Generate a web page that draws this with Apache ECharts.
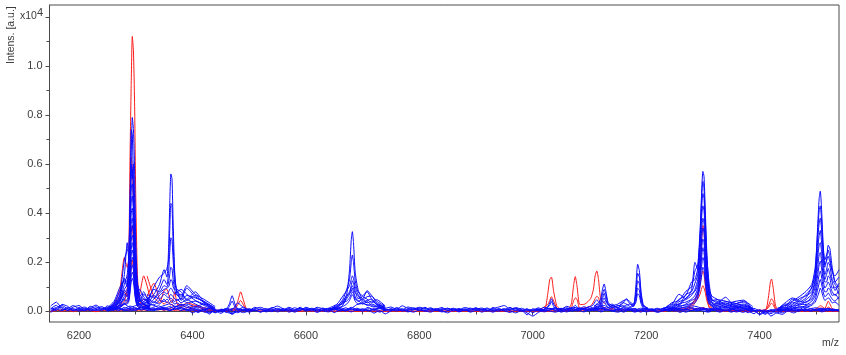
<!DOCTYPE html>
<html>
<head>
<meta charset="utf-8">
<style>
  html, body { margin: 0; padding: 0; background: #fff; }
  #chart { width: 846px; height: 355px; }
</style>
<script src="https://cdn.jsdelivr.net/npm/echarts@6/dist/echarts.min.js"></script>
</head>
<body>
<div id="chart"></div>
<script>
// tick positions, intensities in a.u. (axis label shows them x10^4)
var xMajorTicks = [6200, 6400, 6600, 6800, 7000, 7200, 7400]
var xMinorTicks = [6300, 6500, 6700, 6900, 7100, 7300, 7500]
var yLabelTicks = [0, 2000, 4000, 6000, 8000, 10000]
var yMajorTicks = [0, 2000, 4000, 6000, 8000, 10000, 12000]
var yMinorTicks = [1000, 3000, 5000, 7000, 9000, 11000]

// baseline noise, one value every 10 m/z from 6150 to 7540
var mzBase = []
for (var m = 6150; m <= 7540; m += 10) mzBase.push(m)

var blueBase1 = [
  220, 380, 120, 60, 180, 240, 90, 150, 260, 120,
  170, 90, 210, 300, 160, 240, 300, 220, 280, 160,
  240, 310, 200, 280, 240, 130, 180, 90, 150, 60,
  40, 120, 80, 350, 150, 60, 120, 170, 90, 130,
  220, 110, 40, 150, 90, 130, 60, 170, 110, 80,
  60, 150, 90, 120, 280, 320, 260, 180, 240, 130,
  180, 90, 230, 120, 70, 140, 90, 150, 60, 110,
  80, 130, 70, 160, 110, 90, 140, 60, 120, 180,
  240, 90, 160, 70, -140, 110, 60, 170, 90, 130,
  80, 210, 110, 70, 190, 120, 80, 210, 130, 240,
  150, 80, 120, 60, 130, 90, 30, 110, 60, 120,
  80, 140, 170, 230, 190, 120, 90, 100, 120, 150,
  110, 180, 130, 60, 20, 60, -80, 40, 100, 60,
  60, 140, 90, 180, 120, 150, 90, 120, 80, 60
]
var blueBase2 = [
  80, 160, 240, 110, 40, 110, 180, 60, 120, 200,
  70, 150, 60, 110, 220, 130, 90, 150, 110, 130,
  60, 140, 210, 100, 60, 150, 60, 20, 110, -60,
  60, -40, 120, 70, 180, 40, 170, 60, 110, 30,
  130, 60, 170, 80, 30, 170, 90, 50, 140, 30,
  120, 40, 150, 60, 130, 60, 170, 40, 110, 70,
  40, 160, 60, 180, 120, 40, 170, 60, 120, 40,
  130, 50, 120, 30, 80, 150, 30, 110, 50, 90,
  60, 170, 40, 130, 50, 30, 150, 40, 120, 50,
  130, 60, 170, 130, 90, 200, 60, 130, 40, 170,
  60, 130, 40, 110, -30, 70, 110, 40, 130, 30,
  110, 50, 120, 170, 80, 150, 60, 170, 60, 110,
  60, 150, 40, 90, 120, 20, -120, 50, -60, 20,
  110, 40, 90, 30, 110, 60, 130, 40, 100, 30
]
var blueBase3 = [
  -40, 90, 30, 160, 90, 20, 70, 110, 30, 90,
  120, 40, 110, 30, 80, 150, 60, 120, 70, 90,
  130, 40, 100, 160, 90, 40, 110, -20, -60, 40,
  -80, 50, -120, 40, 70, 110, 30, 90, -20, 60,
  40, 120, -30, 60, 110, 20, 70, -40, 60, 110,
  -50, 60, 20, 110, 40, 90, 20, 110, -30, 60,
  90, 20, 70, -20, 60, 110, 30, -30, 70, 20,
  -60, 60, 20, 70, -30, 50, 100, 30, 70, 10,
  80, 30, -60, 40, -60, -190, -40, 60, 20, -30,
  40, -20, 60, 20, 100, 30, 70, -20, 60, 30,
  90, -30, 60, 20, 70, -20, 40, -40, 30, 70,
  20, 60, -30, 50, 20, 70, 30, 40, -30, 60,
  20, -20, 50, -50, 30, -100, 40, -190, -60, -120,
  20, -60, 40, 70, 10, 60, -20, 50, 20, 60
]
var blueBase4 = [
  140, 40, 290, 210, 20, 160, 40, 210, 90, 40,
  230, 120, 30, 170, 80, 40, 170, 90, 160, 230,
  120, 200, 90, 150, 30, 80, -40, 70, -110, 80,
  -20, 90, 30, -50, 60, -30, 50, -20, 40, 100,
  -20, 70, 110, 20, 130, 70, 110, 20, 80, 130,
  70, 110, 30, 90, 40, 110, 30, 80, 130, 30,
  110, 60, 30, 90, 150, 60, 20, 120, 30, 80,
  130, 20, 90, 60, 140, 30, 70, 140, 20, 120,
  30, 100, 120, 80, 20, 60, 20, 90, 130, 40,
  100, 150, 30, 120, 60, 20, 130, 90, 190, 70,
  30, 170, 90, 20, 60, 120, 70, 130, 20, 90,
  130, 60, 90, 40, 130, 70, 130, 40, 110, 30,
  90, 60, 120, 30, -90, 60, -10, 70, 20, 90,
  30, 90, 20, 120, 40, 70, 30, 90, 30, 70
]
var blueBase5 = [
  30, 120, 180, 30, 110, 60, 130, 30, 70, 140,
  30, 60, 150, 70, 20, 90, 170, 40, 60, 110,
  170, 60, 130, 40, 100, -60, 40, 60, -30, 30,
  70, -30, -90, 20, -50, 30, 80, -30, 60, -10,
  80, 20, 70, -30, 60, 90, 20, 110, 30, -20,
  90, 20, 70, -20, 90, 20, 60, -70, 40, -100,
  20, 60, 110, 30, -30, 70, 20, 90, 60, -20,
  30, 90, -20, 60, 20, 110, -30, 40, -30, 70,
  20, -40, 60, 20, 110, -60, 80, -20, 60, 100,
  -30, 50, 20, 60, -20, 70, 110, 40, 90, 20,
  -30, 50, 70, -30, 60, 20, 90, -20, 60, 20,
  60, -40, 60, 30, 70, 20, -30, 90, 20, 60,
  -30, 60, -40, 30, 70, -140, -30, -90, 40, -60,
  60, 10, 70, 20, 60, 30, 70, 30, 50, 10
]
var blueBase6 = [
  110, 250, 60, 120, 240, 100, 30, 100, 190, 60,
  100, 190, 130, 60, 130, 60, 230, 110, 30, 70,
  100, 30, 170, 230, 170, 90, -30, 100, 30, -40,
  20, 60, -60, 110, 20, 80, 20, 110, 30, 160,
  90, 30, 110, 40, 170, 40, 130, 90, 30, 60,
  160, 90, 40, 170, 60, 20, 110, 90, 160, 100,
  60, 130, 20, 60, 100, 170, 120, 40, 90, 160,
  30, 110, 40, 110, 50, 130, 80, 20, 160, 50,
  120, 60, 110, 20, 90, 60, 110, 30, 60, 170,
  20, 100, 130, 30, 120, 70, 30, 130, 70, 20,
  110, 30, 90, 120, 30, 110, 20, 70, 110, 60,
  30, 110, 60, 130, 40, 100, 20, 120, 80, 20,
  130, 40, 80, 110, 40, 30, 60, -30, 70, 30,
  90, 50, 20, 70, 30, 90, 60, 110, 70, 40
]
var redBase1 = [
  20, 60, 10, 50, -10, 40, 20, 60, 10, 40,
  30, 80, 20, 60, 110, 30, 70, 40, 90, 60,
  90, 50, 70, 30, 60, 20, 50, 10, 40, 20,
  50, 10, 40, 30, 60, 20, 40, 10, 30, 60,
  20, 40, 10, 30, 10, 30, 20, 10, 30, 10,
  20, 10, 30, 10, 20, 10, 30, 20, 10, 20,
  10, 30, 10, 20, 0, 20, 10, 30, 10, 20,
  10, 20, 0, 20, 10, 30, 10, 20, 10, 30,
  20, 10, 20, 10, 0, 20, 10, 30, 10, 20,
  30, 10, 50, 20, 40, 90, 30, 60, 110, 50,
  90, 30, 60, 20, 50, 20, 10, 30, 10, 40,
  20, 30, 90, 60, 110, 130, 50, 70, 20, 30,
  50, 20, 30, 10, 20, 10, 0, 20, 10, 30,
  10, 20, 0, 30, 10, 20, 0, 30, 10, 20
]
var redBase2 = [
  -10, 30, 70, 20, 60, 30, 70, 30, -10, 50,
  60, 20, 100, 50, 30, 120, 40, 140, 70, 110,
  40, 120, 30, 160, 70, 110, 20, 80, 60, 30,
  70, 30, 100, 60, 20, 90, 50, 20, 60, 10,
  40, 20, 50, 20, 10, 30, 10, 40, 10, 20,
  0, 30, 10, 20, 10, 0, 20, 10, 30, 0,
  20, 10, 0, 30, 10, 20, 0, 10, 30, 10,
  20, 0, 30, 10, 20, 10, 0, 20, 30, 10,
  0, 20, 10, 30, 0, 20, 10, 0, 20, 40,
  60, 30, 70, 40, 110, 60, 130, 70, 60, 120,
  30, 80, 40, 70, 10, 40, 30, 60, 20, 50,
  30, 60, 50, 120, 90, 160, 70, 40, 30, 10,
  30, 10, 20, 0, 30, 60, 20, 30, 10, 20,
  0, 20, 30, 10, 30, 60, 20, 10, 0, 20
]

// peak near 6294
var mzA = [6250, 6262, 6272, 6280, 6285, 6288, 6290, 6292, 6294, 6296, 6298, 6300, 6303, 6307, 6314, 6325]
var blueA = [
  [90, 240, 560, 1500, 2800, 2100, 3100, 6200, 7900, 7400, 5800, 3000, 1200, 700, 500, 300],
  [120, 300, 700, 2100, 2500, 2600, 4200, 7400, 7200, 5200, 3300, 1900, 1000, 400, 700, 400],
  [60, 180, 480, 1100, 1500, 2400, 4600, 6000, 5400, 6000, 4600, 2400, 800, 500, 300, 500],
  [100, 360, 820, 1300, 1100, 2000, 3800, 5400, 5800, 5000, 3100, 1700, 900, 600, 800, 200],
  [40, 150, 380, 900, 1100, 1900, 3600, 5000, 5200, 4300, 2600, 1300, 600, 300, 400, 600],
  [150, 420, 980, 1250, 1000, 1700, 3100, 4400, 4700, 4100, 2700, 1300, 700, 900, 600, 300],
  [70, 200, 640, 1350, 1200, 1400, 2700, 4000, 4200, 3500, 2200, 1200, 1100, 500, 300, 200],
  [110, 270, 450, 780, 900, 1300, 2500, 3600, 3800, 3300, 2300, 1500, 500, 400, 500, 400],
  [30, 120, 300, 620, 800, 1200, 2100, 3200, 3500, 3100, 2000, 1100, 600, 200, 300, 150],
  [80, 350, 520, 860, 750, 1000, 1900, 2900, 3100, 2800, 1900, 1000, 800, 600, 400, 300],
  [50, 160, 260, 540, 650, 900, 1700, 2500, 2800, 2500, 1700, 800, 400, 300, 200, 250],
  [130, 210, 420, 700, 600, 800, 1500, 2300, 2500, 2200, 1500, 900, 300, 500, 300, 100],
  [20, 90, 180, 380, 500, 700, 1300, 2000, 2200, 2000, 1300, 700, 300, 200, 100, 200],
  [70, 250, 340, 480, 420, 600, 1100, 1700, 1900, 1700, 1100, 600, 500, 250, 350, 120],
  [40, 130, 230, 320, 350, 500, 900, 1400, 1600, 1450, 950, 500, 250, 120, 200, 90],
  [90, 110, 150, 290, 300, 420, 780, 1200, 1350, 1200, 800, 420, 200, 300, 150, 170]
]
var redA = [
  [60, 140, 270, 420, 900, 2600, 6300, 9200, 11200, 10600, 8500, 4800, 1500, 400, 250, 100],
  [100, 300, 900, 2200, 1800, 2100, 3800, 6300, 5900, 4300, 2300, 1000, 500, 700, 1450, 600],
  [40, 120, 500, 800, 600, 1100, 2200, 3300, 3500, 2700, 1500, 700, 400, 300, 500, 300],
  [50, 90, 180, 300, 400, 600, 1200, 1800, 2100, 1700, 1000, 500, 250, 150, 200, 120]
]

// peak near 6362 and the low humps on both sides of it
var mzB = [6320, 6332, 6342, 6350, 6355, 6358, 6360, 6362, 6364, 6366, 6369, 6373, 6380, 6390, 6405, 6420, 6440]
var blueB = [
  [500, 700, 1100, 1700, 1400, 2600, 4400, 5600, 5400, 3600, 1500, 800, 900, 700, 450, 300, 120],
  [300, 1000, 1400, 1550, 1750, 2100, 3300, 4400, 4300, 2700, 1400, 700, 500, 950, 600, 380, 80],
  [700, 550, 900, 1300, 1100, 1600, 2400, 3000, 2900, 2100, 1100, 900, 800, 500, 800, 400, 150],
  [400, 900, 800, 1050, 1000, 1200, 1500, 1800, 1750, 1300, 900, 850, 600, 1050, 700, 500, 200],
  [250, 500, 750, 900, 950, 1000, 1150, 1300, 1250, 1000, 850, 650, 700, 450, 650, 350, 60],
  [600, 350, 650, 800, 700, 800, 900, 950, 900, 800, 700, 800, 450, 650, 550, 420, 130],
  [200, 650, 500, 700, 600, 550, 650, 700, 650, 600, 500, 450, 550, 350, 420, 250, 40],
  [350, 250, 450, 400, 500, 450, 500, 550, 500, 450, 400, 500, 350, 480, 300, 150, 90],
  [150, 400, 300, 500, 350, 400, 350, 400, 450, 350, 300, 350, 250, 300, 200, 300, 20]
]
var redB = [
  [1450, 600, 350, 850, 900, 700, 500, 400, 350, 500, 800, 300, 200, 350, 250, 150, 60],
  [600, 1150, 500, 300, 400, 350, 300, 250, 300, 200, 150, 250, 300, 150, 220, 100, 40]
]

// small blue peak 6470, red peaks 6485
var mzG = [6450, 6460, 6465, 6470, 6475, 6480, 6485, 6490, 6495, 6505]
var blueG = [
  [60, 120, 300, 640, 300, 100, 70, 90, 40, 80],
  [100, 60, 200, 420, 180, 80, 110, 40, 80, 50]
]
var redG = [
  [30, 60, 50, 90, 150, 420, 800, 460, 120, 40],
  [50, 30, 60, 40, 100, 270, 450, 260, 80, 20]
]

// peak near 6682 with the hump at 6710
var mzC = [6640, 6655, 6665, 6672, 6677, 6680, 6682, 6684, 6687, 6692, 6700, 6708, 6716, 6725, 6740]
var blueC = [
  [100, 180, 350, 700, 1700, 2900, 3250, 2800, 1600, 900, 500, 850, 650, 420, 200],
  [60, 220, 480, 900, 1300, 2000, 2300, 2000, 1250, 800, 650, 800, 500, 300, 120],
  [130, 300, 620, 850, 1050, 1300, 1450, 1350, 1000, 700, 450, 600, 620, 350, 170],
  [80, 120, 420, 650, 800, 1050, 1250, 1150, 850, 520, 600, 500, 350, 480, 220],
  [40, 260, 300, 520, 700, 950, 1050, 950, 750, 650, 380, 450, 500, 260, 90],
  [110, 90, 250, 600, 750, 800, 950, 800, 600, 400, 500, 350, 420, 300, 150],
  [70, 180, 360, 420, 550, 700, 800, 720, 500, 450, 300, 400, 250, 180, 70],
  [30, 140, 200, 300, 450, 600, 680, 600, 420, 300, 360, 250, 300, 220, 110]
]

// red peaks around 7030 to 7115 and the blue bump 7033
var mzR = [7005, 7015, 7022, 7027, 7030, 7033, 7037, 7043, 7052, 7062, 7068, 7072, 7075, 7078, 7083, 7092, 7102, 7107, 7110, 7113, 7116, 7120, 7128]
var redR = [
  [40, 60, 120, 800, 1300, 1400, 800, 200, 60, 90, 300, 1050, 1420, 1050, 280, 300, 520, 900, 1450, 1650, 1300, 500, 300],
  [20, 100, 220, 300, 450, 600, 420, 120, 40, 60, 150, 420, 550, 500, 130, 150, 220, 380, 520, 620, 560, 250, 120]
]
var blueR = [
  [60, 50, 90, 220, 350, 520, 300, 120, 100, 70, 120, 180, 250, 190, 90, 120, 200, 280, 400, 480, 380, 260, 240],
  [100, 20, 130, 180, 250, 400, 200, 90, 40, 130, 60, 120, 160, 120, 150, 60, 120, 160, 200, 320, 260, 180, 120]
]

// blue peaks 7125, 7165, 7186
var mzF = [7108, 7116, 7120, 7123, 7126, 7129, 7133, 7140, 7150, 7158, 7165, 7172, 7178, 7182, 7185, 7188, 7191, 7195, 7203]
var blueF = [
  [200, 340, 520, 900, 1120, 820, 360, 240, 300, 420, 480, 300, 250, 1100, 1920, 1650, 820, 280, 100],
  [120, 260, 400, 700, 900, 680, 300, 170, 220, 300, 520, 380, 280, 800, 1550, 1400, 700, 220, 150],
  [240, 180, 350, 520, 740, 500, 240, 300, 120, 380, 300, 200, 320, 620, 1250, 1120, 520, 180, 60],
  [90, 200, 260, 420, 550, 400, 310, 130, 250, 180, 260, 300, 200, 480, 950, 860, 400, 240, 120],
  [160, 130, 180, 300, 420, 280, 150, 220, 150, 240, 180, 160, 240, 380, 720, 640, 320, 130, 90]
]

// peak near 7300 with the shoulder on its left and low humps round it
var mzD = [7230, 7245, 7258, 7270, 7280, 7286, 7291, 7295, 7298, 7300, 7302, 7304, 7307, 7311, 7316, 7325, 7340, 7355, 7372, 7388]
var blueD = [
  [100, 260, 700, 520, 880, 2000, 1700, 3000, 5000, 5700, 5500, 4300, 2400, 900, 450, 480, 420, 300, 420, 200],
  [60, 350, 450, 820, 1000, 1650, 1900, 3300, 4700, 5300, 5000, 3900, 2200, 1150, 500, 350, 580, 250, 300, 130],
  [150, 180, 500, 650, 1200, 1300, 1750, 3000, 4300, 4800, 4600, 3500, 2000, 900, 620, 500, 300, 400, 460, 90],
  [90, 300, 280, 700, 800, 1150, 1500, 2700, 3900, 4300, 4100, 3200, 1700, 800, 380, 300, 400, 350, 220, 150],
  [40, 130, 400, 480, 650, 900, 1300, 2400, 3400, 3800, 3600, 2800, 1500, 700, 450, 420, 250, 300, 380, 60],
  [120, 220, 240, 550, 720, 820, 1100, 2000, 3000, 3400, 3200, 2400, 1300, 600, 320, 250, 350, 180, 260, 110],
  [70, 100, 320, 380, 500, 650, 950, 1700, 2600, 2950, 2800, 2100, 1150, 500, 250, 320, 200, 260, 150, 70],
  [30, 160, 180, 300, 450, 520, 800, 1500, 2250, 2600, 2400, 1800, 950, 450, 350, 180, 280, 140, 220, 100],
  [80, 70, 220, 260, 340, 450, 700, 1250, 1900, 2200, 2050, 1500, 800, 380, 200, 240, 150, 200, 120, 40],
  [50, 120, 130, 200, 300, 350, 550, 1000, 1500, 1800, 1700, 1250, 650, 300, 260, 140, 200, 100, 170, 80]
]
var redD = [
  [40, 60, 90, 120, 180, 350, 600, 1500, 2900, 3500, 3300, 2300, 1100, 400, 120, 80, 60, 40, 50, 30],
  [20, 50, 70, 100, 260, 500, 700, 1100, 1500, 1650, 1500, 1100, 600, 200, 90, 60, 40, 50, 30, 20],
  [30, 40, 60, 80, 320, 420, 520, 700, 950, 1050, 950, 800, 450, 180, 60, 40, 30, 20, 30, 10]
]

// red peak 7420
var mzH = [7400, 7408, 7412, 7416, 7419, 7421, 7424, 7428, 7433, 7442]
var redH = [
  [30, 60, 120, 650, 1200, 1320, 950, 250, 70, 30],
  [20, 40, 100, 260, 430, 520, 420, 150, 40, 20],
  [40, 20, 80, 170, 280, 340, 260, 90, 60, 10]
]

// peaks near 7507 and 7520 with the rising humps at the right edge
var mzE = [7432, 7445, 7458, 7470, 7482, 7492, 7498, 7502, 7505, 7507, 7509, 7512, 7515, 7518, 7521, 7524, 7528, 7533, 7540]
var blueE = [
  [100, 350, 550, 450, 700, 950, 1500, 3300, 4600, 4900, 4300, 2800, 1900, 2100, 2700, 2550, 1800, 1200, 1000],
  [60, 250, 420, 600, 820, 1100, 1800, 3100, 4100, 4300, 3800, 2600, 2100, 2300, 2500, 2200, 1600, 1450, 1700],
  [140, 180, 500, 380, 560, 1000, 1600, 2800, 3600, 3800, 3400, 2400, 1800, 2050, 2250, 2000, 1700, 1200, 1400],
  [40, 300, 300, 520, 640, 800, 1300, 2400, 3100, 3300, 2900, 2100, 1500, 1700, 2000, 1850, 1300, 1100, 900],
  [90, 120, 380, 300, 480, 700, 1200, 2100, 2700, 2800, 2500, 1800, 1300, 1500, 1750, 1500, 1200, 850, 1150],
  [120, 240, 200, 420, 350, 620, 1000, 1700, 2300, 2400, 2100, 1500, 1200, 1200, 1450, 1350, 950, 1000, 700],
  [30, 90, 260, 250, 400, 500, 800, 1400, 1900, 2050, 1800, 1300, 950, 1050, 1200, 1050, 800, 650, 850],
  [70, 160, 130, 300, 280, 420, 650, 1100, 1500, 1650, 1450, 1000, 800, 800, 950, 900, 650, 700, 500],
  [50, 60, 180, 150, 240, 300, 500, 850, 1150, 1300, 1150, 800, 600, 650, 750, 650, 500, 420, 600],
  [20, 110, 90, 200, 180, 250, 380, 600, 800, 950, 850, 600, 450, 500, 550, 500, 350, 380, 250]
]
var redE = [
  [20, 40, 30, 50, 40, 60, 90, 150, 200, 240, 220, 170, 120, 260, 420, 300, 120, 60, 40],
  [10, 20, 40, 20, 30, 40, 60, 100, 120, 150, 130, 100, 70, 120, 180, 140, 70, 30, 20]
]

var redGroups = [
  [mzBase, [redBase1, redBase2]], [mzA, redA], [mzB, redB], [mzG, redG],
  [mzR, redR], [mzD, redD], [mzH, redH], [mzE, redE]
]
var blueGroups = [
  [mzBase, [blueBase1, blueBase2, blueBase3, blueBase4, blueBase5, blueBase6]],
  [mzA, blueA], [mzB, blueB], [mzG, blueG], [mzC, blueC],
  [mzR, blueR], [mzF, blueF], [mzD, blueD], [mzE, blueE]
]

function buildSeries (groups, color, width, z) {
  var list = []
  groups.forEach(function (group) {
    group[1].forEach(function (values) {
      list.push({
        type: 'line',
        data: values.map(function (v, i) { return [group[0][i], v] }),
        symbol: 'none',
        smooth: 0.2,
        silent: true,
        z: z,
        lineStyle: { color: color, width: width }
      })
    })
  })
  return list
}

var textColor = '#3c3c3c'
var axisColor = '#4a4a4a'
var xRange = { min: 6148, max: 7540 }
var yRange = { min: -430, max: 12480 }

var chart = echarts.init(document.getElementById('chart'))
chart.setOption({
  animation: false,
  grid: {
    left: 49.5, right: 7, top: 5, bottom: 33,
    show: true,
    borderColor: axisColor,
    borderWidth: 1
  },
  xAxis: [
    {
      type: 'value', min: xRange.min, max: xRange.max,
      splitLine: { show: false },
      axisLine: { lineStyle: { color: axisColor } },
      axisTick: { length: 4, customValues: xMajorTicks, lineStyle: { color: axisColor } },
      axisLabel: {
        customValues: xMajorTicks, color: textColor, fontSize: 11,
        fontFamily: 'Liberation Sans', margin: 8, hideOverlap: false,
        formatter: function (v) { return String(v) }
      }
    },
    {
      type: 'value', min: xRange.min, max: xRange.max, position: 'bottom',
      splitLine: { show: false },
      axisLine: { show: false },
      axisTick: { length: 3, customValues: xMinorTicks, lineStyle: { color: axisColor } },
      axisLabel: { show: false }
    }
  ],
  yAxis: [
    {
      type: 'value', min: yRange.min, max: yRange.max,
      splitLine: { show: false },
      axisLine: { show: true, lineStyle: { color: axisColor } },
      axisTick: { show: true, length: 4, customValues: yMajorTicks, lineStyle: { color: axisColor } },
      axisLabel: {
        customValues: yLabelTicks, color: textColor, fontSize: 11,
        fontFamily: 'Liberation Sans', margin: 7,
        formatter: function (v) { return (v / 10000).toFixed(1) }
      }
    },
    {
      type: 'value', min: yRange.min, max: yRange.max, position: 'left',
      splitLine: { show: false },
      axisLine: { show: false },
      axisTick: { show: true, length: 3, customValues: yMinorTicks, lineStyle: { color: axisColor } },
      axisLabel: { show: false }
    }
  ],
  series: buildSeries(redGroups, '#ff1a1a', 1, 2).concat(buildSeries(blueGroups, '#0a0aff', 1, 3)),
  graphic: [
    {
      type: 'text', x: 6, y: 64, rotation: Math.PI / 2 * 1, silent: true, originX: 0, originY: 0,
      style: { text: 'Intens. [a.u.]', fill: textColor, font: '10.5px "Liberation Sans"', align: 'left', verticalAlign: 'top' }
    },
    {
      type: 'text', x: 20, y: 7, silent: true,
      style: {
        text: '{a|x10}{b|4}', fill: textColor,
        rich: {
          a: { font: '10.5px "Liberation Sans"', fill: textColor, verticalAlign: 'bottom' },
          b: { font: '11px "Liberation Sans"', fill: textColor, padding: [0, 0, 4, 0] }
        }
      }
    },
    {
      type: 'text', x: 822, y: 338, silent: true,
      style: { text: 'm/z', fill: textColor, font: '10.5px "Liberation Sans"' }
    }
  ]
})
</script>
</body>
</html>
